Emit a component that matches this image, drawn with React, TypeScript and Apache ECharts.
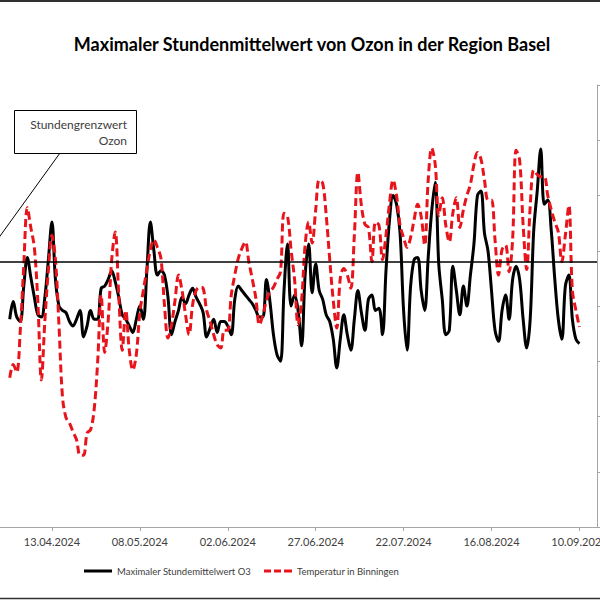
import React, { useEffect, useRef } from "react";
import * as echarts from "echarts";

const chartTitle = "Maximaler Stundenmittelwert von Ozon in der Region Basel";
const ozoneName = "Maximaler Stundemittelwert O3";
const tempName = "Temperatur in Binningen";
const calloutText = "Stundengrenzwert\nOzon";
const firstDate = "2024-04-01";
const axisStartDate = "2024-03-19";
const ozoneLimit = 120;

const ozoneAxis = { min: 0, max: 200, interval: 25 };
const tempAxis = { min: 0, max: 40, interval: 5 };
const dateAxis = { min: 0, max: 180, interval: 25 };

const ozone = [
  94, 102, 95, 93, 109, 122, 113, 104, 96, 95,
  104, 121, 138, 112, 100, 98, 97, 93, 91, 94,
  98, 86, 91, 98, 94, 94, 108, 109, 112, 116,
  111, 104, 96, 94, 91, 88, 94, 100, 94, 116,
  138, 125, 114, 116, 114, 104, 87, 93, 98, 104,
  101, 105, 108, 104, 101, 97, 86, 90, 94, 88,
  93, 93, 91, 87, 103, 109, 107, 105, 103, 101,
  98, 95, 95, 112, 102, 87, 78, 75, 107, 128,
  100, 105, 98, 82, 114, 128, 106, 119, 107, 103,
  96, 93, 85, 72, 85, 96, 87, 80, 94, 107,
  97, 89, 103, 105, 98, 99, 87, 116, 139, 150,
  146, 133, 98, 80, 109, 121, 122, 107, 98, 122,
  143, 156, 119, 103, 87, 89, 118, 107, 96, 109,
  100, 114, 128, 150, 152, 133, 125, 107, 89, 84,
  98, 105, 94, 112, 118, 112, 94, 81, 94, 134,
  152, 171, 146, 148, 134, 112, 94, 85, 109, 114,
  94, 85, 83,
];

const temperature = [
  13.5, 14.7, 14.0, 17.8, 23.7, 28.9, 27.1, 25.3, 20.4, 13.3,
  18.7, 23.3, 26.4, 24.2, 18.3, 11.8, 9.9, 9.4, 8.6, 7.9,
  6.5, 6.5, 8.5, 8.8, 10.6, 14.9, 21.0, 15.8, 18.7, 24.2,
  26.7, 21.0, 16.0, 19.6, 16.0, 14.2, 15.6, 19.4, 21.4, 23.3,
  25.1, 26.0, 25.3, 24.3, 20.1, 17.1, 18.3, 20.5, 22.8, 21.4,
  19.2, 17.4, 20.1, 21.4, 21.7, 21.6, 19.6, 18.6, 17.4, 16.5,
  16.2, 17.8, 17.8, 21.0, 22.8, 24.3, 25.2, 25.8, 24.0, 22.4,
  20.7, 18.3, 19.2, 20.5, 21.3, 21.7, 22.4, 23.1, 28.4, 28.1,
  25.1, 22.4, 18.3, 20.5, 25.5, 27.6, 25.7, 28.7, 31.4, 31.1,
  28.2, 24.2, 20.5, 18.0, 22.5, 23.4, 22.8, 21.6, 26.4, 32.1,
  29.1, 27.4, 27.1, 24.0, 27.6, 27.3, 24.2, 26.4, 29.3, 31.4,
  30.0, 27.3, 26.2, 25.3, 26.2, 27.8, 29.2, 28.1, 25.5, 31.4,
  34.3, 32.8, 28.2, 29.8, 27.3, 25.8, 28.4, 29.8, 27.1, 28.7,
  30.0, 31.0, 32.8, 33.9, 33.3, 31.4, 29.6, 29.6, 26.0, 22.8,
  25.1, 25.5, 23.1, 26.0, 34.1, 33.2, 27.3, 23.3, 29.0, 32.3,
  31.9, 31.7, 31.7, 30.0, 28.7, 27.6, 26.7, 24.0, 26.4, 29.1,
  21.4, 19.6, 18.1,
];

const DAY = 86400000;
const startOffset = (Date.parse(firstDate) - Date.parse(axisStartDate)) / DAY;

function formatDate(u: number): string {
  const d = new Date(Date.parse(axisStartDate) + Math.round(u) * DAY);
  const dd = String(d.getUTCDate()).padStart(2, "0");
  const mm = String(d.getUTCMonth() + 1).padStart(2, "0");
  return `${dd}.${mm}.${d.getUTCFullYear()}`;
}

const solidIcon = "path://M0,0h28v3h-28z";
const dashedIcon = "path://M0,0h7v3h-7z M10,0h7v3h-7z M20,0h8v3h-8z";

export default function App() {
  const ref = useRef<HTMLDivElement>(null);
  useEffect(() => {
    if (!ref.current) return;
    const chart = echarts.init(ref.current, null, { renderer: "svg" });
    const font = "Lato";
    chart.setOption({
      animation: false,
      backgroundColor: "#ffffff",
      textStyle: { fontFamily: font },
      grid: {
        left: -36,
        right: 3,
        top: 85,
        bottom: 73,
        containLabel: false,
        outerBoundsMode: "none",
      },
      legend: {
        left: 84,
        top: 566,
        padding: 0,
        itemWidth: 28,
        itemHeight: 3,
        itemGap: 13,
        textStyle: { fontFamily: font, fontSize: 9.5, color: "#404040" },
        data: [
          { name: ozoneName, icon: solidIcon },
          { name: tempName, icon: dashedIcon },
        ],
      },
      xAxis: {
        type: "value",
        min: dateAxis.min,
        max: dateAxis.max,
        interval: dateAxis.interval,
        axisLine: { show: true, lineStyle: { color: "#a6a6a6", width: 1 } },
        axisTick: { show: true, length: 4, lineStyle: { color: "#a6a6a6" } },
        splitLine: { show: false },
        axisLabel: {
          margin: 9,
          fontSize: 11,
          color: "#404040",
          fontFamily: font,
          showMinLabel: false,
          showMaxLabel: false,
          formatter: (v: number) =>
            v % dateAxis.interval === 0 && v > dateAxis.min ? formatDate(v) : "",
        },
      },
      yAxis: [
        {
          type: "value",
          position: "left",
          min: ozoneAxis.min,
          max: ozoneAxis.max,
          interval: ozoneAxis.interval,
          show: false,
          splitLine: { show: false },
        },
        {
          type: "value",
          position: "right",
          min: tempAxis.min,
          max: tempAxis.max,
          interval: tempAxis.interval,
          axisLine: { show: true, lineStyle: { color: "#a6a6a6", width: 1 } },
          axisTick: { show: true, length: 4, lineStyle: { color: "#a6a6a6" } },
          axisLabel: { show: false },
          splitLine: { show: false },
        },
      ],
      series: [
        {
          name: ozoneName,
          type: "line",
          yAxisIndex: 0,
          data: ozone.map((v, i) => [i + startOffset, v]),
          symbol: "none",
          showSymbol: false,
          smooth: 0.35,
          lineStyle: { color: "#000000", width: 3 },
          itemStyle: { color: "#000000" },
          markLine: {
            silent: true,
            symbol: "none",
            label: { show: false },
            lineStyle: { color: "#000000", width: 1.5, type: "solid" },
            data: [{ yAxis: ozoneLimit }],
          },
        },
        {
          name: tempName,
          type: "line",
          yAxisIndex: 1,
          data: temperature.map((v, i) => [i + startOffset, v]),
          symbol: "none",
          showSymbol: false,
          smooth: 0.35,
          lineStyle: { color: "#e8141c", width: 3, type: [8, 4] },
          itemStyle: { color: "#e8141c" },
        },
      ],
      graphic: [
        {
          type: "line",
          shape: { x1: 0, y1: 1, x2: 600, y2: 1 },
          style: { stroke: "#303030", lineWidth: 2 },
        },
        {
          type: "line",
          shape: { x1: 0, y1: 598.5, x2: 600, y2: 598.5 },
          style: { stroke: "#303030", lineWidth: 1.5 },
        },
        {
          type: "text",
          x: 312,
          y: 44,
          style: {
            text: chartTitle,
            align: "center",
            verticalAlign: "middle",
            font: `bold 18px ${font}`,
            fill: "#000000",
          },
        },
        {
          type: "line",
          shape: { x1: 60, y1: 153, x2: -18, y2: 261 },
          style: { stroke: "#000000", lineWidth: 1 },
          z: 10,
        },
        {
          type: "rect",
          shape: { x: 14.5, y: 110.5, width: 122, height: 43 },
          style: { fill: "#ffffff", stroke: "#000000", lineWidth: 1 },
          z: 10,
        },
        {
          type: "text",
          x: 127,
          y: 116,
          style: {
            text: calloutText,
            align: "right",
            verticalAlign: "top",
            font: `12px ${font}`,
            lineHeight: 16,
            fill: "#404040",
          },
          z: 11,
        },
      ],
    });
    return () => chart.dispose();
  }, []);
  return (
    <div
      ref={ref}
      style={{ position: "fixed", left: 0, top: 0, width: 600, height: 600 }}
    />
  );
}
